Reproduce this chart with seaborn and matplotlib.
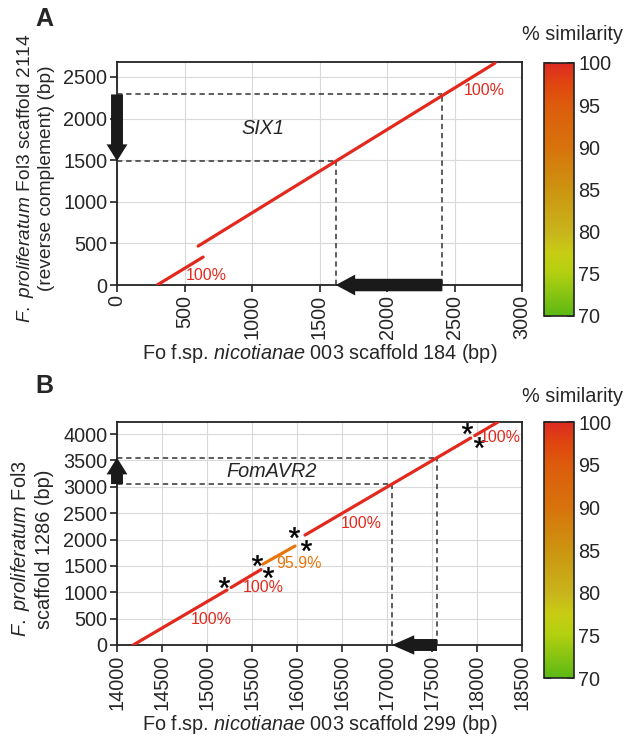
import numpy as np
import pandas as pd
import matplotlib
matplotlib.use("Agg")
import matplotlib.pyplot as plt
import seaborn as sns
from matplotlib.colors import LinearSegmentedColormap, Normalize
from matplotlib.cm import ScalarMappable

sns.set_style("ticks")
plt.rcParams["font.family"] = ["Liberation Sans", "DejaVu Sans"]
plt.rcParams["mathtext.fontset"] = "custom"
plt.rcParams["mathtext.rm"] = "Liberation Sans"
plt.rcParams["mathtext.it"] = "Liberation Sans:italic"

FS = 14.3  # 글자 크기

# 패널 A : SIX1 (scaffold 184 vs scaffold 2114)
a_x0 = [297, 601]
a_x1 = [638, 2800]
a_y0 = [0, 468]
a_y1 = [336, 2667]
a_sim = [100, 100]
a_gene_x = [1620, 2410]
a_gene_y = [1490, 2290]
a_pct_text = ["100%", "100%"]
a_pct_xy = [(2570, 2340), (660, 110)]

# 패널 B : FomAVR2 (scaffold 299 vs scaffold 1286)
b_x0 = [14180, 15267, 15622, 16089, 17975]
b_x1 = [15222, 15600, 15978, 17930, 18235]
b_y0 = [0, 1090, 1535, 2085, 3971]
b_y1 = [1043, 1430, 1877, 3926, 4231]
b_sim = [100, 100, 95.9, 100, 100]
b_gene_x = [17056, 17556]
b_gene_y = [3052, 3552]
b_pct_text = ["100%", "100%", "95.9%", "100%", "100%"]
b_pct_xy = [(15050, 490), (15630, 1100), (16022, 1550), (16711, 2310), (18256, 3940)]
b_star_x = [15189, 15556, 15678, 15967, 16100, 17889, 18022]
b_star_y = [1194, 1611, 1384, 2142, 1896, 4114, 3848]

cmap = LinearSegmentedColormap.from_list("sim", [
    (0.0, "#5cb814"), (0.17, "#b4d010"), (0.25, "#c8cc14"), (0.33, "#c8b41c"),
    (0.5, "#cc9410"), (0.67, "#d8720c"), (0.83, "#dc5c0c"), (0.92, "#e0460f"),
    (1.0, "#dc2a22")])
norm = Normalize(70, 100)
seg_color = {100: "#e3291e", 95.9: "#e8740c"}

fig = plt.figure(figsize=(6.25, 7.39), dpi=100)
ax_a = fig.add_axes([0.1872, 0.6143, 0.648, 0.3018])
ax_b = fig.add_axes([0.1872, 0.1272, 0.648, 0.3018])
cax_a = fig.add_axes([0.8704, 0.5724, 0.048, 0.3424])
cax_b = fig.add_axes([0.8704, 0.0825, 0.048, 0.3464])


def draw_segments(ax, x0, x1, y0, y1, sim):
    rows = []
    for i in range(len(x0)):
        rows.append({"seg": i, "x": x0[i], "y": y0[i]})
        rows.append({"seg": i, "x": x1[i], "y": y1[i]})
    df = pd.DataFrame(rows)
    pal = {i: seg_color[sim[i]] for i in range(len(x0))}
    sns.lineplot(data=df, x="x", y="y", hue="seg", palette=pal, estimator=None,
                 sort=False, legend=False, linewidth=2.3, ax=ax, zorder=4)


def draw_gene(ax, gx, gy, xmin):
    for xv, yv in zip(gx, gy):
        ax.plot([xmin, xv], [yv, yv], ls=(0, (3.5, 2.5)), color="#333333", lw=1.1, zorder=3)
        ax.plot([xv, xv], [0, yv], ls=(0, (3.5, 2.5)), color="#333333", lw=1.1, zorder=3)


def big_arrow(ax, start, end, hw, hl, tw):
    ax.annotate("", xy=end, xytext=start, annotation_clip=False,
                arrowprops=dict(arrowstyle=f"simple,head_width={hw},head_length={hl},tail_width={tw}",
                                mutation_scale=1, fc="#1a1a1a", ec="none",
                                shrinkA=0, shrinkB=0, clip_on=False),
                zorder=6)


def style_axes(ax, xlim, ylim, xticks, yticks):
    ax.set_xlim(*xlim)
    ax.set_ylim(*ylim)
    ax.set_xticks(xticks)
    ax.set_yticks(yticks)
    ax.grid(True, color="#d9d9d9", lw=0.8, zorder=0)
    ax.set_axisbelow(True)
    for s in ax.spines.values():
        s.set_linewidth(1.3)
        s.set_color("#222222")
    ax.tick_params(axis="both", labelsize=FS, length=5, width=1.2, color="#222222", pad=2)
    ax.tick_params(axis="x", labelrotation=90)


# ---- 패널 A ----
draw_segments(ax_a, a_x0, a_x1, a_y0, a_y1, a_sim)
draw_gene(ax_a, a_gene_x, a_gene_y, 0)
big_arrow(ax_a, (0, a_gene_y[1]), (0, a_gene_y[0]), 15, 12, 8.6)
big_arrow(ax_a, (a_gene_x[1], 0), (a_gene_x[0], 0), 15, 14, 9)
for t, (xx, yy) in zip(a_pct_text, a_pct_xy):
    ax_a.text(xx, yy, t, color="#e3291e", fontsize=11.5, ha="center" if xx < 2000 else "left", va="center")
ax_a.text(1080, 1880, "SIX1", fontsize=FS, style="italic", ha="center", va="center")
style_axes(ax_a, (0, 3000), (0, 2680), range(0, 3001, 500), range(0, 2501, 500))
ax_a.set_xlabel(r"Fo f.sp. $\it{nicotianae}$ 003 scaffold 184 (bp)", fontsize=FS, labelpad=2)
ax_a.set_ylabel("$\\it{F.\\ proliferatum}$ Fol3 scaffold 2114\n(reverse complement) (bp)",
                fontsize=13.8, labelpad=3)
ax_a.yaxis.set_label_coords(-0.152, 0.48)

# ---- 패널 B ----
draw_segments(ax_b, b_x0, b_x1, b_y0, b_y1, b_sim)
draw_gene(ax_b, b_gene_x, b_gene_y, 14000)
big_arrow(ax_b, (14000, b_gene_y[0]), (14000, b_gene_y[1]), 15, 12, 8.6)
big_arrow(ax_b, (b_gene_x[1], 0), (b_gene_x[0], 0), 14, 16, 8.6)
ax_b.scatter(b_star_x, b_star_y, marker="$*$", s=60, color="black", linewidths=0.3, zorder=5)
for t, (xx, yy), sv in zip(b_pct_text, b_pct_xy, b_sim):
    ax_b.text(xx, yy, t, color=seg_color[sv], fontsize=11.5, ha="center", va="center", zorder=5)
ax_b.text(15722, 3300, "FomAVR2", fontsize=FS, style="italic", ha="center", va="center")
style_axes(ax_b, (14000, 18500), (0, 4230), range(14000, 18501, 500), range(0, 4001, 500))
ax_b.set_xlabel(r"Fo f.sp. $\it{nicotianae}$ 003 scaffold 299 (bp)", fontsize=FS, labelpad=2)
ax_b.set_ylabel("$\\it{F.\\ proliferatum}$ Fol3\nscaffold 1286 (bp)", fontsize=FS, labelpad=3)
ax_b.yaxis.set_label_coords(-0.155, 0.43)

# ---- 컬러바 ----
for cax, ty in [(cax_a, 1 - 35 / 739), (cax_b, 1 - 396 / 739)]:
    cb = fig.colorbar(ScalarMappable(norm=norm, cmap=cmap), cax=cax, ticks=range(70, 101, 5))
    cb.outline.set_linewidth(1.2)
    cb.outline.set_edgecolor("#222222")
    cax.tick_params(left=True, right=True, direction="in", length=5, width=1.2,
                    labelsize=FS, color="#222222", pad=3)
    fig.text(572 / 625, ty, "% similarity", fontsize=FS, ha="center", va="center")

fig.text(44 / 625, 1 - 19 / 739, "A", fontsize=18, fontweight="bold", ha="center", va="center")
fig.text(44 / 625, 1 - 386 / 739, "B", fontsize=18, fontweight="bold", ha="center", va="center")

fig.savefig("out.png", dpi=100)
